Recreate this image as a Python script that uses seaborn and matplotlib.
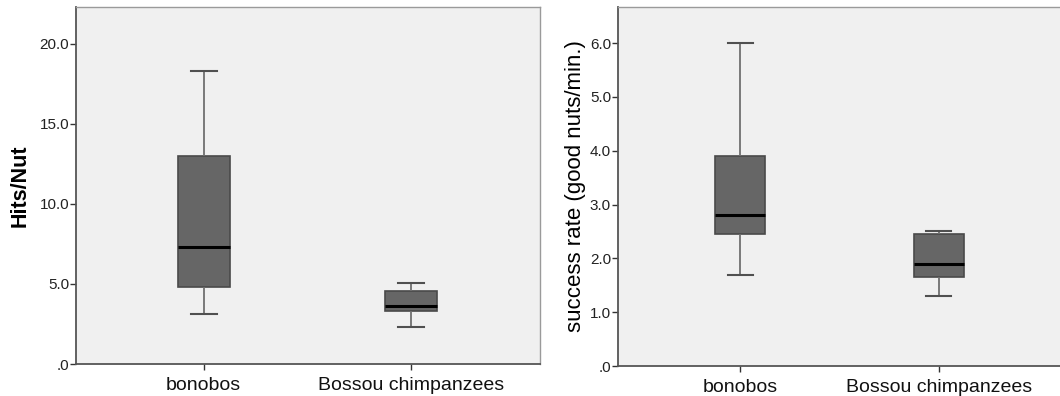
import matplotlib
matplotlib.use("Agg")
import matplotlib.pyplot as plt
import numpy as np
import pandas as pd
import seaborn as sns
from matplotlib.ticker import FuncFormatter

groups = ["bonobos", "Bossou chimpanzees"]
# five-number summaries: min, Q1, median, Q3, max
hits_bonobos = [3.1, 4.8, 7.3, 13.0, 18.3]
hits_chimps = [2.3, 3.3, 3.65, 4.55, 5.05]
rate_bonobos = [1.7, 2.45, 2.8, 3.9, 6.0]
rate_chimps = [1.3, 1.65, 1.9, 2.45, 2.5]


def make_frame(a, b):
    return pd.DataFrame({
        "group": [groups[0]] * len(a) + [groups[1]] * len(b),
        "value": a + b,
    })


def spss_fmt(v, pos):
    s = f"{v:.1f}"
    return s[1:] if s.startswith("0") else s


def draw_panel(ax, df, ymax, yticks, ylabel, bold):
    sns.boxplot(data=df, x="group", y="value", ax=ax, width=0.25, whis=np.inf,
                color="#666666", saturation=1, linecolor="#4a4a4a", linewidth=1.2,
                medianprops=dict(color="black", linewidth=2.2),
                whiskerprops=dict(color="#707070", linewidth=1.3),
                capprops=dict(color="#505050", linewidth=1.5))
    ax.set_facecolor("#f0f0f0")
    ax.set_ylim(0, ymax)
    ax.set_xlim(-0.615, 1.62)
    ax.set_yticks(yticks)
    ax.yaxis.set_major_formatter(FuncFormatter(spss_fmt))
    ax.set_xlabel("")
    ax.set_ylabel(ylabel, fontsize=15.5 if bold else 16,
                  fontweight="bold" if bold else "normal",
                  labelpad=6 if bold else 3)
    ax.tick_params(axis="y", labelsize=11, length=4, width=1, color="#333333",
                   labelcolor="#222222", pad=1)
    ax.tick_params(axis="x", labelsize=14, length=4, width=1, color="#333333",
                   labelcolor="#111111", pad=5)
    for side in ["left", "bottom"]:
        ax.spines[side].set_color("#555555")
        ax.spines[side].set_linewidth(1.3)
    for side in ["top", "right"]:
        ax.spines[side].set_color("#9a9a9a")
        ax.spines[side].set_linewidth(1)


plt.rcParams["font.family"] = ["Liberation Sans", "DejaVu Sans"]
fig = plt.figure(figsize=(10.6, 3.96), dpi=100)
fig.patch.set_facecolor("white")

ax1 = fig.add_axes([76 / 1060, 32 / 396, 464 / 1060, 357 / 396])
draw_panel(ax1, make_frame(hits_bonobos, hits_chimps), 22.3,
           [0, 5, 10, 15, 20], "Hits/Nut", True)

ax2 = fig.add_axes([618 / 1060, 30 / 396, 444 / 1060, 359 / 396])
draw_panel(ax2, make_frame(rate_bonobos, rate_chimps), 6.67,
           [0, 1, 2, 3, 4, 5, 6], "success rate (good nuts/min.)", False)

fig.savefig("out.png", dpi=100)
